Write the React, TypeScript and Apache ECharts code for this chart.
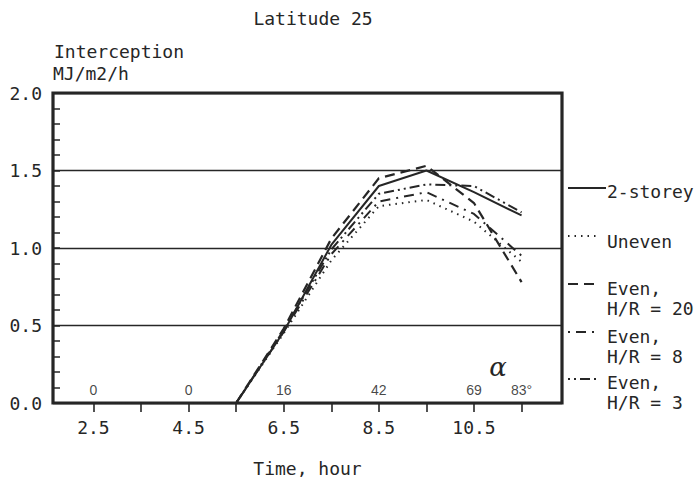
import React, { useEffect, useRef } from "react";
import * as echarts from "echarts";

const hours = [2.5, 3.5, 4.5, 5.5, 6.5, 7.5, 8.5, 9.5, 10.5, 11.5];
const twoStorey = [0, 0, 0, 0, 0.46, 1.02, 1.4, 1.5, 1.36, 1.21];
const uneven = [0, 0, 0, 0, 0.45, 0.92, 1.27, 1.31, 1.17, 0.91];
const evenHR20 = [0, 0, 0, 0, 0.48, 1.06, 1.45, 1.53, 1.29, 0.78];
const evenHR8 = [0, 0, 0, 0, 0.46, 0.96, 1.3, 1.36, 1.22, 0.95];
const evenHR3 = [0, 0, 0, 0, 0.47, 0.99, 1.35, 1.41, 1.4, 1.23];

const xLabelValues = [2.5, 4.5, 6.5, 8.5, 10.5];
const xTickValues = [2.5, 3.5, 4.5, 5.5, 6.5, 7.5, 8.5, 9.5, 10.5, 11.5];
const angleHours = [2.5, 4.5, 6.5, 8.5, 10.5, 11.5];
const angleLabels = ["0", "0", "16", "42", "69", "83°"];

const INK = "#262626";
const MONO = "DejaVu Sans Mono";

const pairs = (vals: number[]) => hours.map((h, i) => [h, vals[i]]);

export default function App() {
  const ref = useRef<HTMLDivElement>(null);
  useEffect(() => {
    if (!ref.current) return;
    const chart = echarts.init(ref.current, null, { renderer: "svg" });
    const lineSeries = (name: string, vals: number[], type: any, width: number) => ({
      name,
      type: "line",
      data: pairs(vals),
      symbol: "none",
      lineStyle: { color: INK, width, type },
      z: 3,
    });
    const legendY = [188, 236, 284, 332, 379];
    const legendDash: any[] = [null, [1.5, 5], [10, 6], [2, 6, 10, 6], [2, 4, 2, 4, 10, 4]];
    const legendText = [
      ["2-storey", 191],
      ["Uneven", 241],
      ["Even,\nH/R = 20", 298],
      ["Even,\nH/R = 8", 346],
      ["Even,\nH/R = 3", 392],
    ];
    const graphic: any[] = [
      {
        type: "text",
        x: 313,
        y: 18,
        style: { text: "Latitude 25", font: `18px '${MONO}'`, fill: INK, align: "center", verticalAlign: "middle" },
      },
      {
        type: "text",
        x: 54,
        y: 51,
        style: { text: "Interception", font: `18px '${MONO}'`, fill: INK, verticalAlign: "middle" },
      },
      {
        type: "text",
        x: 53,
        y: 73,
        style: { text: "MJ/m2/h", font: `18px '${MONO}'`, fill: INK, verticalAlign: "middle" },
      },
      {
        type: "text",
        x: 498,
        y: 367,
        style: { text: "\u03b1", font: "italic 26px 'DejaVu Serif'", fill: INK, align: "center", verticalAlign: "middle" },
      },
    ];
    legendY.forEach((y, i) => {
      graphic.push({
        type: "line",
        shape: { x1: 568, y1: y, x2: i === 0 ? 606 : 598, y2: y },
        style: { stroke: INK, lineWidth: i === 0 ? 1.8 : 2, lineDash: legendDash[i] || undefined },
      });
      graphic.push({
        type: "text",
        x: 607,
        y: legendText[i][1] as number,
        style: {
          text: legendText[i][0] as string,
          font: `18px '${MONO}'`,
          fill: INK,
          verticalAlign: "middle",
          lineHeight: 20,
        },
      });
    });

    chart.setOption({
      animation: false,
      backgroundColor: "#ffffff",
      grid: {
        left: 53,
        right: 138,
        top: 93,
        bottom: 78,
        show: true,
        borderColor: INK,
        borderWidth: 3.2,
        containLabel: false,
        outerBoundsMode: "none",
      },
      xAxis: {
        type: "value",
        min: 1.65,
        max: 12.35,
        axisLine: { show: false },
        splitLine: { show: false },
        axisTick: {
          show: true,
          customValues: xTickValues,
          length: 9,
          lineStyle: { color: INK, width: 1.6 },
        },
        axisLabel: {
          customValues: xLabelValues,
          formatter: (v: number) => v.toFixed(1),
          fontFamily: MONO,
          fontSize: 18,
          color: INK,
          margin: 15,
        },
        name: "Time, hour",
        nameLocation: "middle",
        nameGap: 56,
        nameTextStyle: { fontFamily: MONO, fontSize: 18, color: INK },
      },
      yAxis: {
        type: "value",
        min: 0,
        max: 2,
        interval: 0.5,
        axisLine: { show: false },
        axisTick: { show: true, inside: true, length: 7, lineStyle: { color: INK, width: 1.5 } },
        minorTick: { show: true, splitNumber: 5, length: 7, lineStyle: { color: INK, width: 1.5 } },
        splitLine: { show: true, lineStyle: { color: INK, width: 1.3 } },
        axisLabel: {
          formatter: (v: number) => v.toFixed(1),
          fontFamily: MONO,
          fontSize: 18,
          color: INK,
          margin: 11,
        },
      },
      graphic,
      series: [
        lineSeries("2-storey", twoStorey, "solid", 2),
        lineSeries("Uneven", uneven, [1.5, 5], 2),
        lineSeries("Even, H/R = 20", evenHR20, [10, 6], 2.2),
        lineSeries("Even, H/R = 8", evenHR8, [2, 6, 10, 6], 2),
        lineSeries("Even, H/R = 3", evenHR3, [2, 4, 2, 4, 10, 4], 2),
        {
          type: "scatter",
          symbolSize: 1,
          itemStyle: { color: "rgba(0,0,0,0)" },
          data: angleHours.map((h) => [h, 0.085]),
          label: {
            show: true,
            position: "inside",
            formatter: (p: any) => angleLabels[p.dataIndex],
            fontFamily: "Liberation Sans",
            fontSize: 14,
            color: "#151515",
          },
          silent: true,
          z: 4,
        },
      ],
    });
    return () => chart.dispose();
  }, []);
  return (
    <div
      ref={ref}
      style={{ position: "fixed", left: 0, top: 0, width: 700, height: 481, background: "#fff" }}
    />
  );
}
